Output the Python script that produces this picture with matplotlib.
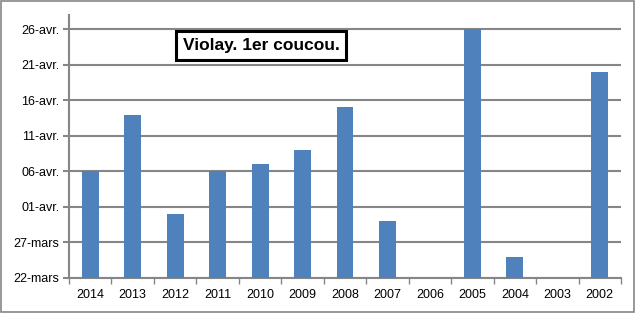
import numpy as np
import matplotlib
matplotlib.use("Agg")
import matplotlib.pyplot as plt
import matplotlib.dates as mdates
import pandas as pd

plt.rcParams['font.family'] = ['Liberation Sans', 'DejaVu Sans']

"""
Data: date of the first cuckoo each year (day/month)
"""
years = ['2014', '2013', '2012', '2011', '2010', '2009', '2008',
         '2007', '2006', '2005', '2004', '2003', '2002']
first_day = ['06-04', '14-04', '31-03', '06-04', '07-04', '09-04', '15-04',
             '30-03', None, '26-04', '25-03', None, '20-04']

tick_days = ['22-03', '27-03', '01-04', '06-04', '11-04', '16-04', '21-04', '26-04']
tick_labels = ['22-mars', '27-mars', '01-avr.', '06-avr.', '11-avr.', '16-avr.', '21-avr.', '26-avr.']

def todate(s):
    if s is None:
        return np.nan
    return mdates.date2num(pd.to_datetime(s + '-2000', format='%d-%m-%Y'))

base = todate('22-03')
vals = np.array([todate(s) for s in first_day])
ticks = [todate(s) for s in tick_days]

"""
Plot
"""
fig = plt.figure(figsize=(6.35, 3.13), dpi=100)
ax = fig.add_axes([69/635, 1-278/313, 552/635, 263/313])

x = np.arange(len(years))
ax.bar(x, vals - base, bottom=base, width=0.4, color='#4f81bd', zorder=3)

ax.set_xlim(-0.5, len(years) - 0.5)
ax.set_ylim(base, base + 37)
ax.set_yticks(ticks)
ax.set_yticklabels(tick_labels, fontsize=9)
ax.set_xticks(x)
ax.set_xticklabels(years, fontsize=9)
ax.set_xticks(np.arange(-0.5, len(years)), minor=True)

ax.grid(axis='y', color='#868686', linewidth=1.5, zorder=0)
for s in ['top', 'right']:
    ax.spines[s].set_visible(False)
for s in ['left', 'bottom']:
    ax.spines[s].set_color('#868686')
    ax.spines[s].set_linewidth(1.5)
ax.tick_params(axis='x', which='major', length=0, pad=8)
ax.tick_params(axis='x', which='minor', length=4, color='#868686', width=1)
ax.tick_params(axis='y', length=4, color='#868686', width=1.5, pad=3)

ax.text(0.348, 0.884, 'Violay. 1er coucou.', transform=ax.transAxes, ha='center', va='center',
        fontsize=12.5, fontweight='bold',
        bbox=dict(boxstyle='square,pad=0.4', fc='white', ec='black', lw=2.2), zorder=5)

# outer border
fig.patches.append(plt.Rectangle((0.002, 0.003), 0.996, 0.994, transform=fig.transFigure,
                                 fill=False, ec='#868686', lw=1.2))

plt.savefig("out.png", dpi=100)
